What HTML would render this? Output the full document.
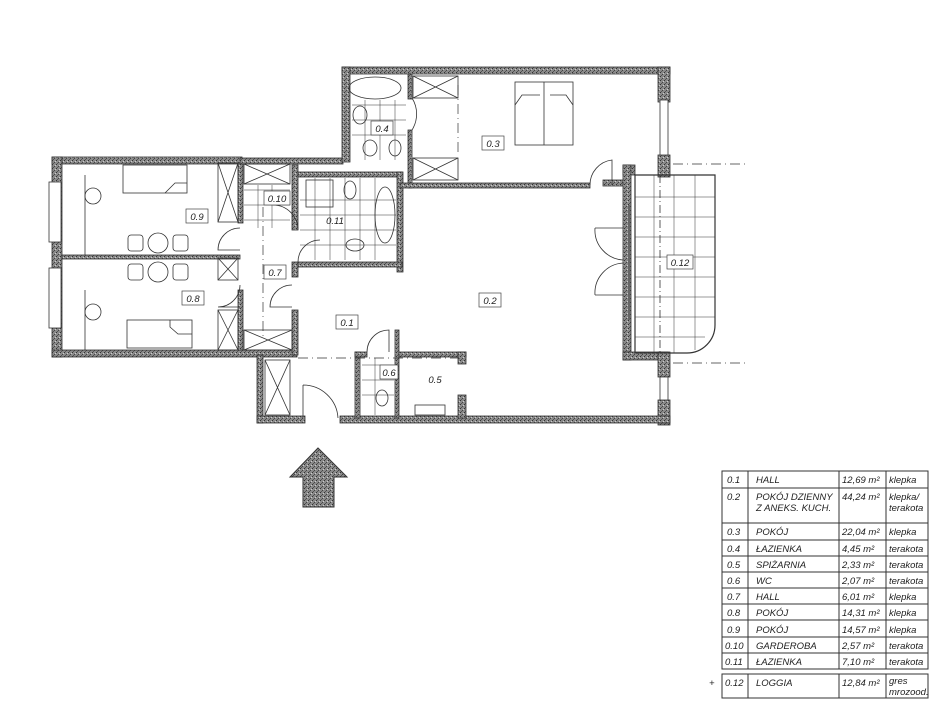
<!DOCTYPE html>
<html><head><meta charset="utf-8"><style>
html,body{margin:0;padding:0;background:#fff}
svg{display:block}
text{font-family:"Liberation Sans",sans-serif;font-style:italic;fill:#222}
</style></head><body>
<svg width="947" height="711" viewBox="0 0 947 711" xmlns="http://www.w3.org/2000/svg">
<defs>
<pattern id="st" width="4" height="4" patternUnits="userSpaceOnUse">
<rect width="4" height="4" fill="#8a8a8a"/><rect x="0" y="0" width="1" height="1" fill="#333"/><rect x="2" y="2" width="1" height="1" fill="#444"/><rect x="3" y="1" width="1" height="1" fill="#ccc"/><rect x="1" y="3" width="1" height="1" fill="#555"/>
</pattern>
</defs>
<g fill="url(#st)" stroke="#333" stroke-width="0.8">
<rect x="52" y="157" width="190" height="7"/>
<rect x="52" y="157" width="10" height="200"/>
<rect x="52" y="350" width="245" height="7"/>
<rect x="238" y="163" width="5" height="60"/>
<rect x="238" y="290" width="5" height="60"/>
<rect x="62" y="255" width="178" height="4"/>
<rect x="240" y="158" width="103" height="6"/>
<rect x="292" y="165" width="6" height="65"/>
<rect x="292" y="262" width="6" height="15"/>
<rect x="292" y="310" width="6" height="45"/>
<rect x="298" y="172" width="104" height="5"/>
<rect x="397" y="172" width="6" height="100"/>
<rect x="298" y="262" width="104" height="5"/>
<rect x="342" y="67" width="328" height="7"/>
<rect x="342" y="67" width="8" height="95"/>
<rect x="408" y="74" width="4" height="25"/>
<rect x="408" y="130" width="4" height="58"/>
<rect x="400" y="183" width="190" height="5"/>
<rect x="603" y="180" width="25" height="6"/>
<rect x="658" y="67" width="12" height="35"/>
<rect x="658" y="155" width="12" height="22"/>
<rect x="623" y="165" width="12" height="10"/>
<rect x="623" y="165" width="8" height="195"/>
<rect x="623" y="352" width="45" height="8"/>
<rect x="658" y="352" width="12" height="25"/>
<rect x="658" y="400" width="12" height="25"/>
<rect x="257" y="355" width="6" height="68"/>
<rect x="257" y="416" width="48" height="7"/>
<rect x="340" y="416" width="330" height="7"/>
<rect x="355" y="352" width="5" height="66"/>
<rect x="355" y="352" width="12" height="5"/>
<rect x="395" y="330" width="4" height="88"/>
<rect x="399" y="352" width="67" height="5"/>
<rect x="458" y="352" width="8" height="12"/>
<rect x="458" y="395" width="8" height="23"/>
</g>
<g fill="none" stroke="#333" stroke-width="0.8">
<rect x="49" y="182" width="12" height="60" fill="#fff"/>
<rect x="49" y="268" width="12" height="60" fill="#fff"/>
<rect x="123" y="165" width="64" height="28"/>
<path d="M165 193 L175 183 L187 183"/>
<rect x="127" y="320" width="65" height="28"/>
<path d="M170 320 L170 327 L178 334 L192 334"/>
<rect x="515" y="82" width="58" height="63"/>
<line x1="544" y1="82" x2="544" y2="145"/>
<path d="M515 105 L522 95 L540 95 M573 105 L566 95 L550 95"/>
<circle cx="158" cy="243" r="10"/><rect x="128" y="235" width="15" height="16" rx="3"/><rect x="173" y="235" width="15" height="16" rx="3"/>
<circle cx="158" cy="272" r="10"/><rect x="128" y="264" width="15" height="16" rx="3"/><rect x="173" y="264" width="15" height="16" rx="3"/>
<circle cx="93" cy="196" r="8"/><circle cx="93" cy="312" r="8"/>
<line x1="85" y1="175" x2="85" y2="255"/><line x1="85" y1="290" x2="85" y2="350"/>
<rect x="218" y="163" width="20" height="59"/><path d="M218 163 L238 222 M238 163 L218 222"/>
<rect x="218" y="258" width="20" height="22"/><path d="M218 258 L238 280 M238 258 L218 280"/>
<rect x="218" y="310" width="20" height="40"/><path d="M218 310 L238 350 M238 310 L218 350"/>
<rect x="244" y="164" width="46" height="20"/><path d="M244 164 L290 184 M290 164 L244 184"/>
<rect x="244" y="330" width="48" height="20"/><path d="M244 330 L292 350 M292 330 L244 350"/>
<rect x="265" y="360" width="25" height="55"/><path d="M265 360 L290 415 M290 360 L265 415"/>
<rect x="413" y="76" width="45" height="22"/><path d="M413 76 L458 98 M458 76 L413 98"/>
<rect x="413" y="158" width="45" height="22"/><path d="M413 158 L458 180 M458 158 L413 180"/>
<g stroke-width="0.5">
<path d="M244 190 H290 M244 205 H290 M244 220 H290 M258 185 V228 M272 185 V228"/>
<path d="M300 200 H396 M300 215 H396 M300 230 H396 M300 245 H396 M315 178 V260 M330 178 V260 M345 178 V260 M360 178 V260 M375 178 V260"/>
<path d="M352 105 H406 M352 120 H406 M352 135 H406 M365 100 V160 M380 100 V160 M395 100 V160"/>
<path d="M362 365 H394 M362 380 H394 M362 395 H394 M375 358 V415"/>
</g>
<rect x="306" y="180" width="27" height="27"/>
<ellipse cx="375" cy="88" rx="26" ry="11"/>
<ellipse cx="385" cy="215" rx="10" ry="28"/>
<ellipse cx="360" cy="115" rx="7" ry="9"/>
<ellipse cx="370" cy="148" rx="7" ry="8"/><ellipse cx="395" cy="148" rx="6" ry="8"/>
<ellipse cx="350" cy="190" rx="6" ry="9"/><ellipse cx="355" cy="245" rx="9" ry="6"/>
<ellipse cx="382" cy="398" rx="6" ry="8"/>
<rect x="415" y="405" width="30" height="10"/>
<path d="M240 228 A22 22 0 0 0 218 250 L240 250"/>
<path d="M240 285 A22 22 0 0 1 218 307 L240 307"/>
<path d="M298 230 A25 25 0 0 0 273 205"/>
<path d="M298 262 A22 22 0 0 1 320 240"/>
<path d="M292 285 A22 22 0 0 0 270 307 L292 307"/>
<path d="M412 98 A30 30 0 0 1 412 130"/>
<path d="M303 385 A35 35 0 0 1 338 418 M303 385 V418"/>
<path d="M367 352 A22 22 0 0 1 389 330 V352"/>
<path d="M590 185 A25 25 0 0 1 612 160 V185"/>
<path d="M595 228 H623 M595 228 A30 30 0 0 0 623 260 M595 295 H623 M595 295 A30 30 0 0 1 623 263"/>
<path d="M635 175 H715 V325 A28 28 0 0 1 687 353 H635 Z" stroke-width="1.2"/>
<line x1="629" y1="205" x2="629" y2="320" stroke-width="2" stroke="#666"/>
<g stroke-width="0.5"><path d="M654 175 V353 M674 175 V353 M695 175 V350 M635 197 H715 M635 217 H715 M635 237 H715 M635 257 H715 M635 277 H715 M635 297 H715 M635 317 H715 M635 337 H705"/></g>
<line x1="660" y1="175" x2="660" y2="353" stroke-dasharray="8 3 1 3"/>
<rect x="660" y="100" width="8" height="55" fill="#fff"/>
<rect x="660" y="377" width="8" height="23" fill="#fff"/>
<g stroke-dasharray="10 4 1 4" stroke-width="0.7">
<line x1="673" y1="164" x2="745" y2="164"/><line x1="673" y1="363" x2="747" y2="363"/>
<line x1="263" y1="207" x2="263" y2="340"/><line x1="298" y1="358" x2="460" y2="358"/>
<line x1="458" y1="85" x2="458" y2="155"/>
</g>
</g>
<path d="M318 448 L347 477 L334 477 L334 507 L303 507 L303 477 L290 477 Z" fill="url(#st)" stroke="#333"/>
<g font-size="9.5" text-anchor="middle">
<g fill="#fff" stroke="#444" stroke-width="0.7">
<rect x="186" y="209" width="22" height="14"/><rect x="182" y="291" width="22" height="14"/>
<rect x="264" y="191" width="26" height="14"/><rect x="264" y="265" width="22" height="14"/>
<rect x="336" y="315" width="22" height="14"/><rect x="371" y="121" width="22" height="14"/>
<rect x="482" y="136" width="22" height="14"/><rect x="479" y="293" width="22" height="14"/>
<rect x="667" y="255" width="26" height="14"/><rect x="380" y="365" width="18" height="14"/>
</g>
<text x="197" y="220">0.9</text><text x="193" y="302">0.8</text>
<text x="277" y="202">0.10</text><text x="335" y="224">0.11</text>
<text x="275" y="276">0.7</text><text x="347" y="326">0.1</text>
<text x="389" y="376">0.6</text><text x="435" y="383">0.5</text>
<text x="382" y="132">0.4</text><text x="493" y="147">0.3</text>
<text x="490" y="304">0.2</text><text x="680" y="266">0.12</text>
</g>
<g fill="none" stroke="#333" stroke-width="1">
<rect x="722" y="471" width="206" height="198"/>
<line x1="748" y1="471" x2="748" y2="669"/><line x1="839" y1="471" x2="839" y2="669"/><line x1="886" y1="471" x2="886" y2="669"/>
<line x1="722" y1="488" x2="928" y2="488"/><line x1="722" y1="523" x2="928" y2="523"/>
<line x1="722" y1="540" x2="928" y2="540"/><line x1="722" y1="556" x2="928" y2="556"/>
<line x1="722" y1="572" x2="928" y2="572"/><line x1="722" y1="588" x2="928" y2="588"/>
<line x1="722" y1="604" x2="928" y2="604"/><line x1="722" y1="620" x2="928" y2="620"/>
<line x1="722" y1="637" x2="928" y2="637"/><line x1="722" y1="653" x2="928" y2="653"/>
<rect x="722" y="674" width="206" height="24"/>
<line x1="748" y1="674" x2="748" y2="698"/><line x1="839" y1="674" x2="839" y2="698"/><line x1="886" y1="674" x2="886" y2="698"/>
</g>
<g font-size="9.5">
<text x="727" y="483">0.1</text><text x="756" y="483">HALL</text><text x="842" y="483">12,69 m²</text><text x="889" y="483">klepka</text>
<text x="727" y="500">0.2</text><text x="756" y="500">POKÓJ DZIENNY</text><text x="756" y="511">Z ANEKS. KUCH.</text><text x="842" y="500">44,24 m²</text><text x="889" y="500">klepka/</text><text x="889" y="511">terakota</text>
<text x="727" y="535">0.3</text><text x="756" y="535">POKÓJ</text><text x="842" y="535">22,04 m²</text><text x="889" y="535">klepka</text>
<text x="727" y="552">0.4</text><text x="756" y="552">ŁAZIENKA</text><text x="842" y="552">4,45  m²</text><text x="889" y="552">terakota</text>
<text x="727" y="568">0.5</text><text x="756" y="568">SPIŻARNIA</text><text x="842" y="568">2,33  m²</text><text x="889" y="568">terakota</text>
<text x="727" y="584">0.6</text><text x="756" y="584">WC</text><text x="842" y="584">2,07  m²</text><text x="889" y="584">terakota</text>
<text x="727" y="600">0.7</text><text x="756" y="600">HALL</text><text x="842" y="600">6,01  m²</text><text x="889" y="600">klepka</text>
<text x="727" y="616">0.8</text><text x="756" y="616">POKÓJ</text><text x="842" y="616">14,31 m²</text><text x="889" y="616">klepka</text>
<text x="727" y="633">0.9</text><text x="756" y="633">POKÓJ</text><text x="842" y="633">14,57 m²</text><text x="889" y="633">klepka</text>
<text x="725" y="649">0.10</text><text x="756" y="649">GARDEROBA</text><text x="842" y="649">2,57  m²</text><text x="889" y="649">terakota</text>
<text x="725" y="665">0.11</text><text x="756" y="665">ŁAZIENKA</text><text x="842" y="665">7,10  m²</text><text x="889" y="665">terakota</text>
<text x="709" y="686">+</text><text x="725" y="686">0.12</text><text x="756" y="686">LOGGIA</text><text x="842" y="686">12,84 m²</text><text x="889" y="684">gres</text><text x="889" y="695">mrozood.</text>
</g>
</svg>
</body></html>
